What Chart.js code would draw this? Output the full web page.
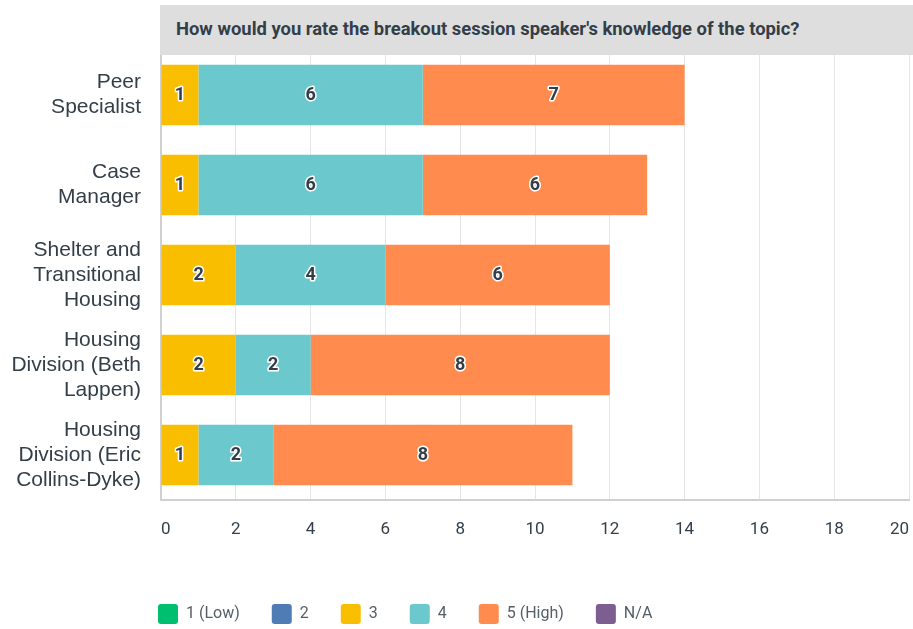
<!DOCTYPE html>
<html>
<head>
<meta charset="utf-8">
<script src="https://cdn.jsdelivr.net/npm/chart.js@4"></script>
<style>
  html, body { margin: 0; padding: 0; background: #fff; }
  #wrap { position: relative; width: 913px; height: 629px; }
  #titleBar {
    position: absolute; left: 160px; top: 5px; width: 753px; height: 50px; z-index: 2;
    background: #dedede; box-sizing: border-box; padding-left: 16px;
    font: bold 18.4px Roboto, sans-serif; color: #333e48; line-height: 48px;
  }
  canvas { position: absolute; left: 0; top: 0; z-index: 1; }
</style>
</head>
<body>
<div id="wrap">
  <canvas id="chart" width="913" height="629"></canvas>
  <div id="titleBar">How would you rate the breakout session speaker's knowledge of the topic?</div>
</div>
<script>
// categories (multi-line labels as in the survey export)
const categories = [
  ['Peer', 'Specialist'],
  ['Case', 'Manager'],
  ['Shelter and', 'Transitional', 'Housing'],
  ['Housing', 'Division (Beth', 'Lappen)'],
  ['Housing', 'Division (Eric', 'Collins-Dyke)']
];

// answer counts per rating
const ratingLabels = ['1 (Low)', '2', '3', '4', '5 (High)', 'N/A'];
const ratingColors = ['#00bf6f', '#507cb6', '#f9be00', '#6bc8cd', '#ff8b4f', '#7d5e90'];
const low = [0, 0, 0, 0, 0];
const two = [0, 0, 0, 0, 0];
const three = [1, 1, 2, 2, 1];
const four = [6, 6, 4, 2, 2];
const high = [7, 6, 6, 8, 8];
const na = [0, 0, 0, 0, 0];
const xTicks = [0, 2, 4, 6, 8, 10, 12, 14, 16, 18, 20];

const seriesValues = [low, two, three, four, high, na];

// zapiseme cisla doprostred segmentu
const segmentLabels = {
  id: 'segmentLabels',
  afterDatasetsDraw(chart) {
    const ctx = chart.ctx;
    ctx.save();
    ctx.font = 'bold 18px Roboto, sans-serif';
    ctx.textAlign = 'center';
    ctx.textBaseline = 'middle';
    ctx.lineJoin = 'round';
    chart.data.datasets.forEach((ds, i) => {
      const meta = chart.getDatasetMeta(i);
      meta.data.forEach((bar, j) => {
        const v = ds.data[j];
        if (!v) return;
        const cx = (bar.x + bar.base) / 2;
        ctx.lineWidth = 3;
        ctx.strokeStyle = '#ffffff';
        ctx.strokeText(String(v), cx, bar.y);
        ctx.fillStyle = '#333e48';
        ctx.fillText(String(v), cx, bar.y);
      });
    });
    ctx.restore();
  }
};

// legenda ma byt pod grafem zarovnana k ose
const legendPlace = {
  id: 'legendPlace',
  afterLayout(chart) {
    const lg = chart.legend;
    const w = lg.width;
    lg.left = 126;
    lg.right = 126 + w;
    const h = lg.height;
    lg.top = 572;
    lg.bottom = 572 + h;
  }
};

const datasets = ratingLabels.map((label, i) => ({
  label: label,
  data: seriesValues[i],
  backgroundColor: ratingColors[i],
  borderWidth: 0,
  barPercentage: 0.67,
  categoryPercentage: 1.0
}));

new Chart(document.getElementById('chart'), {
  type: 'bar',
  data: { labels: categories, datasets: datasets },
  plugins: [segmentLabels, legendPlace],
  options: {
    indexAxis: 'y',
    responsive: false,
    animation: false,
    layout: { padding: { top: 50, right: 4, left: 0, bottom: 0 } },
    plugins: {
      tooltip: { enabled: false },
      title: { display: false },
      legend: {
        position: 'bottom',
        align: 'start',
        labels: {
          boxWidth: 20,
          boxHeight: 20,
          padding: 32,
          useBorderRadius: true,
          borderRadius: 3,
          color: '#555f66',
          font: { family: 'Roboto, sans-serif', size: 16 }
        }
      }
    },
    scales: {
      x: {
        stacked: true,
        min: 0,
        max: 20,
        afterBuildTicks(scale) {
          scale.ticks = xTicks.map(v => ({ value: v }));
        },
        afterFit(scale) {
          scale.height = 67;
          scale.paddingLeft = 0;
          scale.paddingRight = 0;
        },
        grid: { color: '#e6e6e6', drawTicks: false, lineWidth: 1 },
        border: { color: '#d0d0d0', width: 2 },
        ticks: {
          align: 'inner',
          padding: 20,
          color: '#333e48',
          font: { family: 'Roboto, sans-serif', size: 17 }
        }
      },
      y: {
        stacked: true,
        afterFit(scale) {
          scale.width = 161;
          scale.paddingTop = 0;
          scale.paddingBottom = 0;
        },
        grid: { display: false, drawTicks: false },
        border: { color: '#d0d0d0', width: 2 },
        ticks: {
          padding: 20,
          color: '#333e48',
          font: { family: '"Liberation Sans", Arial, sans-serif', size: 21, lineHeight: 1.2 }
        }
      }
    }
  }
});
</script>
</body>
</html>
